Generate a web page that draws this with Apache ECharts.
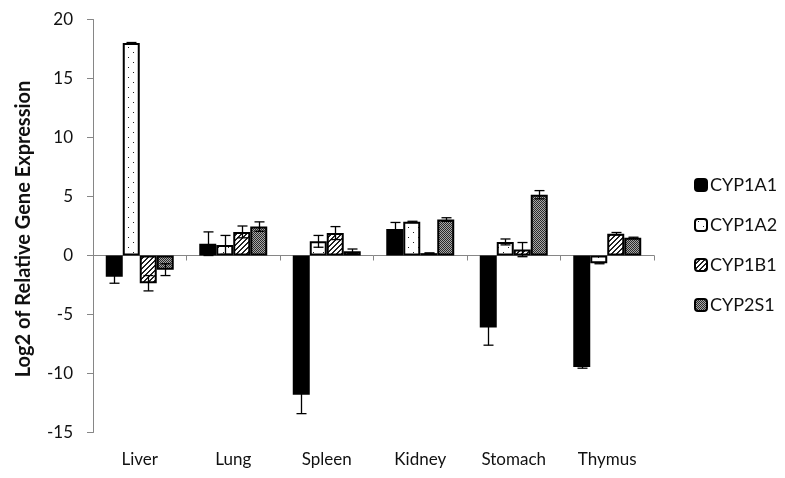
<!DOCTYPE html>
<html><head><meta charset="utf-8">
<script src="https://cdn.jsdelivr.net/npm/echarts@6/dist/echarts.min.js"></script>
<style>html,body{margin:0;padding:0;background:#fff}#c{width:785px;height:478px}</style>
</head><body><div id="c"></div>
<script>
const categories = ['Liver', 'Lung', 'Spleen', 'Kidney', 'Stomach', 'Thymus'];
const seriesNames = ['CYP1A1', 'CYP1A2', 'CYP1B1', 'CYP2S1'];
const cyp1a1 = [-1.8, 1.0, -11.8, 2.25, -6.1, -9.45];
const cyp1a1Err = [0.55, 1.0, 1.6, 0.55, 1.5, 0.1];
const cyp1a2 = [18.0, 0.9, 1.2, 2.85, 1.15, -0.65];
const cyp1a2Err = [0.05, 0.8, 0.5, 0.05, 0.25, 0.05];
const cyp1b1 = [-2.35, 2.0, 1.9, 0.2, 0.5, 1.85];
const cyp1b1Err = [0.65, 0.5, 0.55, 0.02, 0.6, 0.1];
const cyp2s1 = [-1.2, 2.45, 0.35, 3.05, 5.15, 1.5];
const cyp2s1Err = [0.5, 0.4, 0.2, 0.15, 0.35, 0.05];
const yMin = -15, yMax = 20, yInterval = 5;

const FONT = 'Lato';
const CAT_GAP = 0.273;

function tile(w, h, draw) {
  const c = document.createElement('canvas');
  c.width = w; c.height = h;
  const g = c.getContext('2d');
  g.fillStyle = '#fff'; g.fillRect(0, 0, w, h);
  draw(g);
  return c;
}
const dotTile = tile(10, 10, g => {
  g.fillStyle = '#222';
  g.fillRect(3, 2, 1, 1);
  g.fillRect(8, 7, 1, 1);
});
const hatchTile = tile(5, 5, g => {
  g.fillStyle = '#222';
  for (let i = 0; i < 5; i++) {
    g.fillRect(i, 4 - i, 1, 1);
    g.fillRect(i, (5 - i) % 5, 1, 1);
  }
});
const checkTile = tile(2, 2, g => {
  g.fillStyle = '#2a2a2a';
  g.fillRect(0, 0, 1, 1);
  g.fillRect(1, 1, 1, 1);
  g.fillStyle = '#a8a8a8';
  g.fillRect(1, 0, 1, 1);
  g.fillRect(0, 1, 1, 1);
});

const fills = [
  '#000',
  { image: dotTile, repeat: 'repeat' },
  { image: hatchTile, repeat: 'repeat' },
  { image: checkTile, repeat: 'repeat' }
];
const values = [cyp1a1, cyp1a2, cyp1b1, cyp2s1];
const errors = [cyp1a1Err, cyp1a2Err, cyp1b1Err, cyp2s1Err];

const barSeries = seriesNames.map((name, k) => ({
  name, type: 'bar', xAxisIndex: 0, yAxisIndex: 0,
  data: values[k],
  barGap: '0%', barCategoryGap: (CAT_GAP * 100) + '%',
  itemStyle: { color: fills[k], borderColor: '#000', borderWidth: 2 },
  emphasis: { disabled: true }
}));

function errSeries(k) {
  return {
    type: 'custom', xAxisIndex: 0, yAxisIndex: 0, z: 10, silent: true,
    encode: { x: 0, y: 1 },
    data: values[k].map((v, i) => [i, v, errors[k][i]]),
    renderItem(params, api) {
      const i = api.value(0), v = api.value(1), e = api.value(2);
      const band = api.size([1, 0])[0];
      const bw = band * (1 - CAT_GAP) / 4;
      const cx = Math.round(api.coord([i, v])[0] + (k - 1.5) * bw) + 0.5;
      const yTop = api.coord([i, v + e])[1];
      const yBot = api.coord([i, v - e])[1];
      const cap = 5;
      const st = { stroke: '#000', lineWidth: 1.3 };
      return {
        type: 'group', children: [
          { type: 'line', shape: { x1: cx, y1: yTop, x2: cx, y2: yBot }, style: st },
          { type: 'line', shape: { x1: cx - cap, y1: yTop, x2: cx + cap, y2: yTop }, style: st },
          { type: 'line', shape: { x1: cx - cap, y1: yBot, x2: cx + cap, y2: yBot }, style: st }
        ]
      };
    }
  };
}

const chart = echarts.init(document.getElementById('c'), null, { renderer: 'canvas' });
chart.setOption({
  animation: false,
  backgroundColor: '#fff',
  textStyle: { fontFamily: FONT },
  grid: { left: 93, right: 131, top: 19.5, bottom: 45.5, containLabel: false },
  legend: {
    data: seriesNames,
    orient: 'vertical', left: 689, top: 171,
    itemWidth: 12, itemHeight: 12, itemGap: 22,
    textStyle: { fontFamily: FONT, fontSize: 18, color: '#111', lineHeight: 18, padding: [0, 0, 0, -2] },
    selectedMode: false
  },
  xAxis: [
    {
      type: 'category', data: categories, position: 'bottom',
      axisLine: { onZero: true, lineStyle: { color: '#868686', width: 1 } },
      axisTick: { show: true, length: 5, lineStyle: { color: '#868686' } },
      axisLabel: { show: false },
      splitLine: { show: false }
    },
    {
      type: 'category', data: categories, position: 'bottom',
      axisLine: { show: false, onZero: false },
      axisTick: { show: false },
      axisLabel: { show: true, margin: 19, fontFamily: FONT, fontSize: 17, color: '#111' },
      splitLine: { show: false }
    }
  ],
  yAxis: {
    type: 'value', min: yMin, max: yMax, interval: yInterval,
    name: 'Log2 of Relative Gene Expression',
    nameLocation: 'middle', nameRotate: 90, nameGap: 59,
    nameTextStyle: { fontFamily: FONT, fontSize: 20, fontWeight: 'bold', color: '#111', padding: [0, 6, 0, 0] },
    axisLine: { show: true, lineStyle: { color: '#868686', width: 1 } },
    axisTick: { show: true, length: 6, lineStyle: { color: '#868686' } },
    axisLabel: { margin: 20, fontFamily: FONT, fontSize: 17, color: '#111' },
    splitLine: { show: false }
  },
  series: [...barSeries, ...seriesNames.map((n, k) => errSeries(k))]
});
</script>
</body></html>
